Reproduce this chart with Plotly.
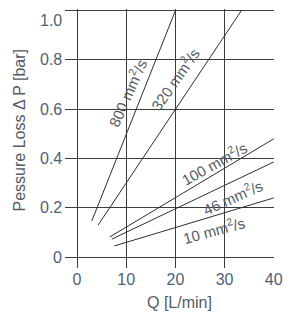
import plotly.graph_objects as go

# Flow Q [L/min] and pressure loss [bar] at end points of each viscosity line
q_800 = [3.0, 20.0]
dp_800 = [0.146, 1.0]
q_320 = [4.3, 33.4]
dp_320 = [0.13, 1.0]
q_100 = [6.7, 40.0]
dp_100 = [0.082, 0.48]
q_46 = [7.1, 40.0]
dp_46 = [0.073, 0.386]
q_10 = [7.6, 40.0]
dp_10 = [0.045, 0.24]

series = [(q_800, dp_800), (q_320, dp_320), (q_100, dp_100), (q_46, dp_46), (q_10, dp_10)]

# labels: text, x, y, angle
label_text = ["800 mm<sup>2</sup>/s", "320 mm<sup>2</sup>/s", "100 mm<sup>2</sup>/s",
              "46 mm<sup>2</sup>/s", "10 mm<sup>2</sup>/s"]
label_x = [10.05, 19.8, 27.9, 31.65, 27.7]
label_y = [0.67, 0.726, 0.383, 0.244, 0.113]
label_angle = [-66, -55, -29, -24, -15]

x_ticks = [0, 10, 20, 30, 40]
y_ticks = [0, 0.2, 0.4, 0.6, 0.8, 1.0]
y_ticktext = ["0", "0.2", "0.4", "0.6", "0.8", "1.0"]

font = "Liberation Sans, Arial, sans-serif"
tick_color = "#4f6078"
text_color = "#555b66"
grid_color = "#3c3c3c"

fig = go.Figure()
for q, dp in series:
    fig.add_trace(go.Scatter(x=q, y=dp, mode="lines",
                             line=dict(color="#2e2e2e", width=1),
                             showlegend=False, hoverinfo="skip"))

for t, x, y, a in zip(label_text, label_x, label_y, label_angle):
    fig.add_annotation(x=x, y=y, xref="x", yref="y", text=t, textangle=a,
                       showarrow=False, font=dict(family=font, size=15, color=text_color))

# y tick labels (the top one sits just below its grid line, as in the original)
for v, t in zip(y_ticks, y_ticktext):
    top = v == max(y_ticks)
    fig.add_annotation(x=0, y=v, xref="paper", yref="y", text=t, showarrow=False,
                       xanchor="right", yanchor="top" if top else "middle",
                       xshift=-1, yshift=1 if top else 0,
                       font=dict(family=font, size=16, color=tick_color))

fig.add_annotation(x=0.55, y=0, xref="paper", yref="paper", yshift=-34,
                   text="Q [L/min]", showarrow=False, yanchor="middle",
                   font=dict(family=font, size=16, color=text_color))
fig.add_annotation(x=0, y=0.5, xref="paper", yref="paper", xshift=-46, yshift=8,
                   text="Pessure Loss Δ P [bar]", textangle=-90, showarrow=False,
                   xanchor="center",
                   font=dict(family=font, size=16, color=text_color))

# page body has an 8px default margin, so the figure is shrunk by 8px on left/top
fig.update_layout(
    width=283, height=305,
    margin=dict(l=57, r=17, t=1, b=45, autoexpand=False),
    paper_bgcolor="white", plot_bgcolor="white",
    xaxis=dict(range=[-2.44, 40.05], tickvals=x_ticks, showgrid=True, automargin=False,
               gridcolor=grid_color, gridwidth=1, zeroline=False, showline=False,
               ticks="", ticklabeloverflow="allow",
               tickfont=dict(family=font, size=16, color=tick_color)),
    yaxis=dict(range=[-0.0445, 1.007], tickvals=y_ticks, showticklabels=False,
               showgrid=True, gridcolor=grid_color, gridwidth=1, zeroline=False,
               showline=False, ticks="", automargin=False),
)

fig.write_html("out.html")
